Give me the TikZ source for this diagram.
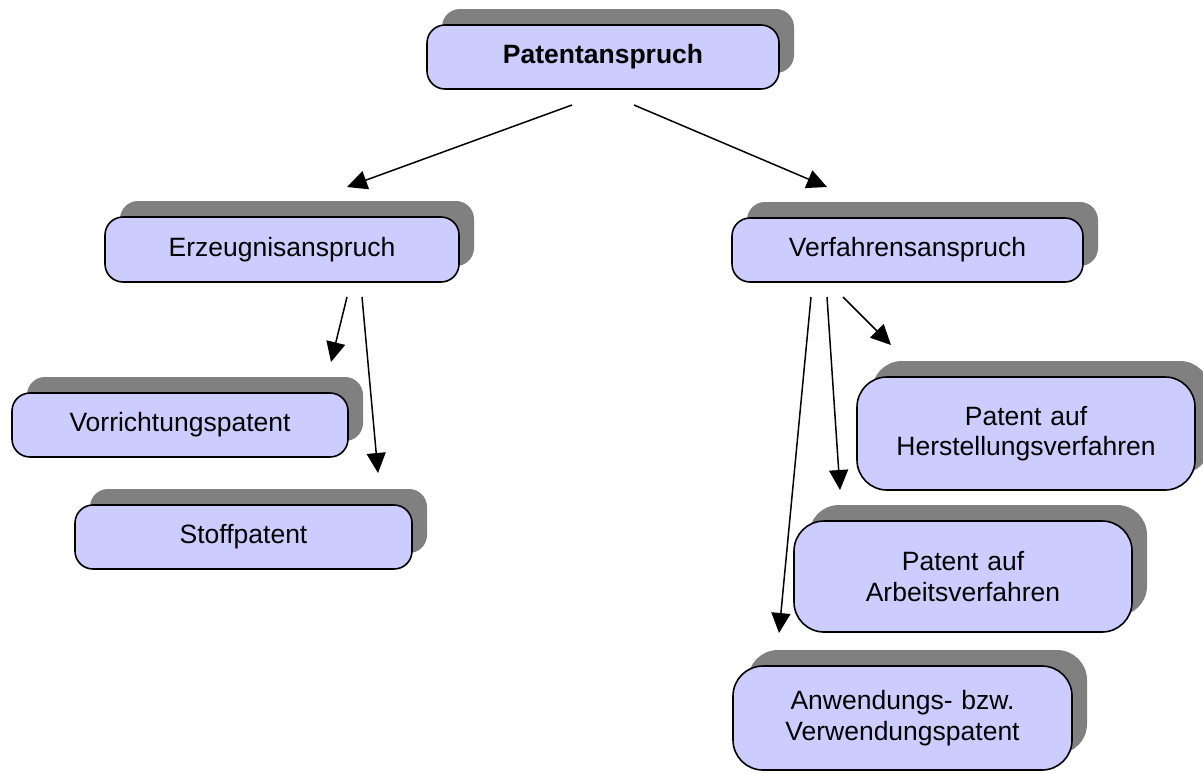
\documentclass[tikz,border=0pt]{standalone}
\usepackage{fontspec}
\setmainfont{Liberation Sans}
\usetikzlibrary{shadows,arrows.meta}
\definecolor{boxfill}{RGB}{204,204,255}
\definecolor{shadowgray}{RGB}{128,128,128}
\begin{document}
\begin{tikzpicture}[x=0.5pt,y=-0.5pt,
	  box/.style={draw=black,line width=0.8pt,fill=boxfill,rounded corners=9pt,
	    general shadow={fill=shadowgray,shadow xshift=7.5pt,shadow yshift=8pt},
	    inner sep=0pt,text width=160pt,align=center,
	    font=\fontsize{13.25}{15.2}\selectfont},
	  tallbox/.style={box,rounded corners=15pt},
	  arr/.style={line width=0.75pt,-{Triangle[length=10pt,width=9.5pt]}}]
	  \useasboundingbox (0,0) rectangle (1203,773);
	  \node[box,minimum width=176pt,minimum height=32pt,font=\fontsize{13.25}{15.2}\selectfont\bfseries] (pa) at (603,57) {Patentanspruch};
	  \node[box,minimum width=177pt,minimum height=32.5pt] (ea) at (282,249.5) {Erzeugnisanspruch};
	  \node[box,minimum width=175.5pt,minimum height=32pt] (va) at (907.5,250) {Verfahrensanspruch};
	  \node[box,minimum width=168pt,minimum height=32pt] (vp) at (180,425) {Vorrichtungspatent};
	  \node[box,minimum width=168.5pt,minimum height=32pt] (sp) at (243.5,537) {Stoffpatent};
	  \node[tallbox,minimum width=169pt,minimum height=56.5pt] (hv) at (1026,433.5) {Patent auf\\Herstellungsverfahren};
	  \node[tallbox,minimum width=169pt,minimum height=55.5pt] (av) at (963,576.5) {Patent auf\\Arbeitsverfahren};
	  \node[tallbox,minimum width=169.5pt,minimum height=52pt] (ap) at (902.5,718) {Anwendungs- bzw.\\Verwendungspatent};
	  \coordinate (pa1) at (572,105);
	  \coordinate (pa2) at (634,105);
	  \coordinate (ea0) at (347,187);
	  \coordinate (va0) at (827,187);
	  \coordinate (ea1) at (347,297);
	  \coordinate (ea2) at (362,297);
	  \coordinate (vp0) at (331,362);
	  \coordinate (sp0) at (378,473);
	  \coordinate (va1) at (811,297);
	  \coordinate (va2) at (827,297);
	  \coordinate (va3) at (843,297);
	  \coordinate (ap0) at (779,633);
	  \coordinate (av0) at (840,490);
	  \coordinate (hv0) at (891,345);
	  \draw[arr] (pa1) -- (ea0);
	  \draw[arr] (pa2) -- (va0);
	  \draw[arr] (ea1) -- (vp0);
	  \draw[arr] (ea2) -- (sp0);
	  \draw[arr] (va1) -- (ap0);
	  \draw[arr] (va2) -- (av0);
	  \draw[arr] (va3) -- (hv0);
	\end{tikzpicture}
\end{document}
